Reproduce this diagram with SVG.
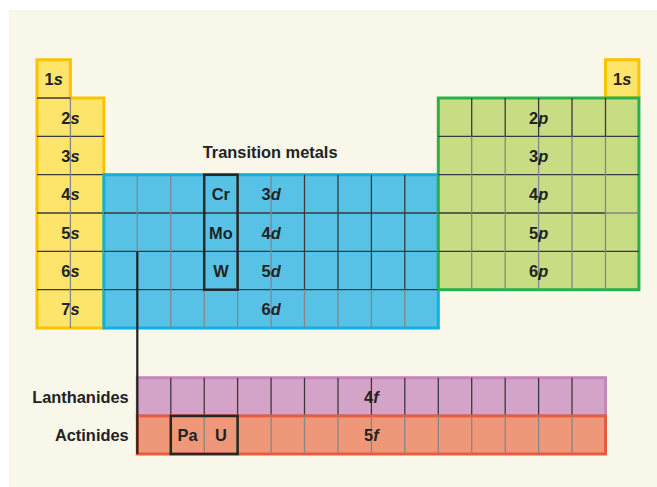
<svg xmlns="http://www.w3.org/2000/svg" width="657" height="487" viewBox="0 0 657 487">
  <style>
    .lbl { font-family: "Liberation Sans", Arial, sans-serif; font-weight: bold; font-size: 16.4px; fill: #222222; }
    .c { text-anchor: middle; }
    .r { text-anchor: end; }
    .it { font-style: italic; }
    .s-blk { fill: #fde46a; stroke: #f8c300; stroke-width: 3; }
    .d-blk { fill: #58c2e6; stroke: #10b0e0; stroke-width: 3; }
    .p-blk { fill: #c8dc83; stroke: #2bb04a; stroke-width: 3; }
    .f4-blk { fill: #d4a3c8; stroke: #c586bb; stroke-width: 3; }
    .f5-blk { fill: #ef9879; stroke: #e65c3e; stroke-width: 3; }
    .dk { stroke: #3a3a3a; stroke-width: 1.3; fill: none; }
    .gy { stroke: #868686; stroke-width: 1.3; fill: none; }
    .hl { fill: none; stroke: #262626; stroke-width: 2.5; }
    .conn { stroke: #222222; stroke-width: 2.2; fill: none; }
  </style>

  <!-- paper -->
  <rect x="9" y="10" width="648" height="477" fill="#f9f6ea"/>

  <!-- s block (left) -->
  <g id="s-block">
    <path class="s-blk" d="M37,59.7 H70.4 V98 H103.9 V328 H37 Z"/>
    <path class="dk" d="M37,98 H70.4 M37,136.4 H103.9 M37,174.7 H103.9 M37,213 H103.9 M37,251.4 H103.9 M37,289.7 H103.9"/>
    <path class="gy" d="M70.4,98 V328"/>
    <text class="lbl c" x="53.7" y="85.3">1<tspan class="it">s</tspan></text>
    <text class="lbl c" x="70.4" y="123.6">2<tspan class="it">s</tspan></text>
    <text class="lbl c" x="70.4" y="161.9">3<tspan class="it">s</tspan></text>
    <text class="lbl c" x="70.4" y="200.2">4<tspan class="it">s</tspan></text>
    <text class="lbl c" x="70.4" y="238.5">5<tspan class="it">s</tspan></text>
    <text class="lbl c" x="70.4" y="276.9">6<tspan class="it">s</tspan></text>
    <text class="lbl c" x="70.4" y="315.2">7<tspan class="it">s</tspan></text>
  </g>

  <!-- helium cell (right) -->
  <g id="s-block-right">
    <rect class="s-blk" x="605.5" y="59.7" width="33.4" height="38.3"/>
    <text class="lbl c" x="622.2" y="85.3">1<tspan class="it">s</tspan></text>
  </g>

  <!-- d block -->
  <g id="d-block">
    <rect class="d-blk" x="103.9" y="174.7" width="334.4" height="153.3"/>
    <path class="dk" d="M103.9,213 H438.3 M103.9,251.4 H438.3 M103.9,289.7 H438.3"/>
    <path class="gy" d="M137.3,174.7 V251.4 M170.8,174.7 V328 M204.2,174.7 V328 M237.6,174.7 V328 M271.1,174.7 V328"/>
    <path class="dk" d="M304.5,174.7 V289.7 M338,174.7 V289.7 M371.4,174.7 V289.7 M404.8,174.7 V289.7"/>
    <path class="gy" d="M304.5,289.7 V328 M338,289.7 V328 M371.4,289.7 V328 M404.8,289.7 V328"/>
    <text class="lbl" x="202.7" y="158.3">Transition metals</text>
    <text class="lbl c" x="271.1" y="200.2">3<tspan class="it">d</tspan></text>
    <text class="lbl c" x="271.1" y="238.5">4<tspan class="it">d</tspan></text>
    <text class="lbl c" x="271.1" y="276.9">5<tspan class="it">d</tspan></text>
    <text class="lbl c" x="271.1" y="315.2">6<tspan class="it">d</tspan></text>
  </g>

  <!-- group 6: Cr, Mo, W -->
  <g id="group-6">
    <rect class="hl" x="204.2" y="174.7" width="33.4" height="115"/>
    <text class="lbl c" x="220.9" y="200.2">Cr</text>
    <text class="lbl c" x="220.9" y="238.5">Mo</text>
    <text class="lbl c" x="220.9" y="276.9">W</text>
  </g>

  <!-- p block -->
  <g id="p-block">
    <rect class="p-blk" x="438.3" y="98" width="200.6" height="191.7"/>
    <path class="dk" d="M438.3,136.4 H638.9 M438.3,174.7 H638.9 M438.3,213 H605.5 M438.3,251.4 H638.9"/>
    <path class="gy" d="M605.5,213 H638.9"/>
    <path class="dk" d="M471.7,98 V136.4 M505.2,98 V136.4 M538.6,98 V136.4 M572,98 V136.4 M605.5,98 V136.4"/>
    <path class="gy" d="M471.7,136.4 V289.7 M505.2,136.4 V289.7 M538.6,136.4 V289.7 M572,136.4 V289.7 M605.5,136.4 V289.7"/>
    <text class="lbl c" x="538.6" y="123.6">2<tspan class="it">p</tspan></text>
    <text class="lbl c" x="538.6" y="161.9">3<tspan class="it">p</tspan></text>
    <text class="lbl c" x="538.6" y="200.2">4<tspan class="it">p</tspan></text>
    <text class="lbl c" x="538.6" y="238.5">5<tspan class="it">p</tspan></text>
    <text class="lbl c" x="538.6" y="276.9">6<tspan class="it">p</tspan></text>
  </g>

  <!-- lanthanides -->
  <g id="lanthanides">
    <rect class="f4-blk" x="137.3" y="377.7" width="468.2" height="38.2"/>
    <path class="dk" d="M170.8,377.7 V415.9 M204.2,377.7 V415.9 M237.6,377.7 V415.9 M271.1,377.7 V415.9 M304.5,377.7 V415.9 M338,377.7 V415.9 M371.4,377.7 V415.9 M404.8,377.7 V415.9 M438.3,377.7 V415.9 M471.7,377.7 V415.9 M505.2,377.7 V415.9 M538.6,377.7 V415.9 M572,377.7 V415.9"/>
    <text class="lbl r" x="128.7" y="403.3">Lanthanides</text>
    <text class="lbl c" x="371.4" y="402.8">4<tspan class="it">f</tspan></text>
  </g>

  <!-- actinides -->
  <g id="actinides">
    <rect class="f5-blk" x="137.3" y="415.9" width="468.2" height="38.1"/>
    <path class="gy" d="M170.8,415.9 V454 M204.2,415.9 V454 M237.6,415.9 V454 M271.1,415.9 V454 M304.5,415.9 V454 M338,415.9 V454 M371.4,415.9 V454 M404.8,415.9 V454 M438.3,415.9 V454 M471.7,415.9 V454 M505.2,415.9 V454 M538.6,415.9 V454 M572,415.9 V454"/>
    <text class="lbl r" x="128.7" y="440.7">Actinides</text>
    <text class="lbl c" x="371.4" y="441">5<tspan class="it">f</tspan></text>
  </g>

  <!-- Pa, U -->
  <g id="pa-u">
    <rect class="hl" x="170.8" y="415.9" width="66.8" height="38.1"/>
    <text class="lbl c" x="187.5" y="441">Pa</text>
    <text class="lbl c" x="220.9" y="441">U</text>
  </g>

  <!-- link from the main table down to the f block -->
  <g id="connectors">
    <path class="conn" d="M137.3,251.4 V454"/>
  </g>
</svg>
